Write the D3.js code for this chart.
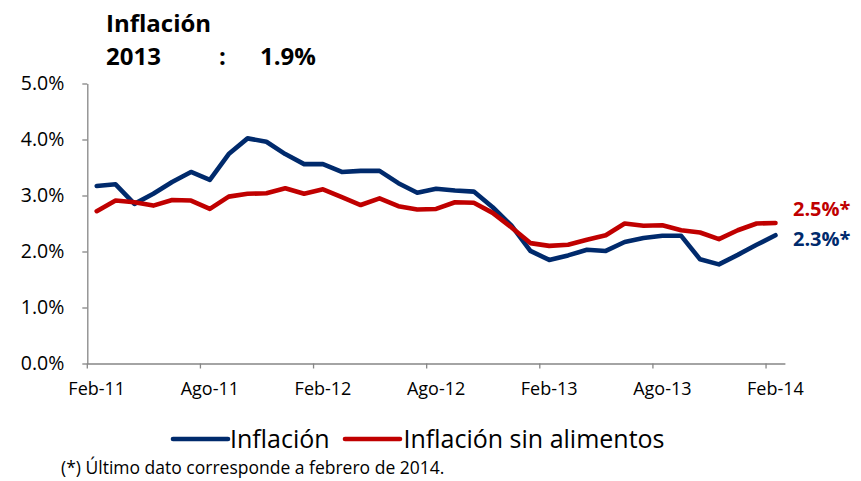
<!DOCTYPE html>
<html><head><meta charset="utf-8">
<script src="https://cdn.jsdelivr.net/npm/d3@7"></script>
<style>
body{margin:0;background:#fff;}
svg text{font-family:"Open Sans","Noto Sans",sans-serif;fill:#000;}
</style></head>
<body><svg id="c" width="861" height="481"></svg>
<script>
const months = ["Feb-11","Mar-11","Abr-11","May-11","Jun-11","Jul-11","Ago-11","Sep-11","Oct-11","Nov-11","Dic-11","Ene-12",
"Feb-12","Mar-12","Abr-12","May-12","Jun-12","Jul-12","Ago-12","Sep-12","Oct-12","Nov-12","Dic-12","Ene-13",
"Feb-13","Mar-13","Abr-13","May-13","Jun-13","Jul-13","Ago-13","Sep-13","Oct-13","Nov-13","Dic-13","Ene-14","Feb-14"];
const inflacion = [3.17,3.20,2.85,3.03,3.24,3.42,3.28,3.74,4.02,3.96,3.74,3.56,3.56,3.42,3.44,3.44,3.22,3.05,3.12,3.09,3.07,2.79,2.46,2.01,1.85,1.93,2.03,2.01,2.17,2.24,2.28,2.28,1.86,1.77,1.94,2.12,2.29];
const sinAlimentos = [2.72,2.91,2.88,2.82,2.92,2.91,2.76,2.98,3.03,3.04,3.13,3.03,3.11,2.97,2.83,2.95,2.81,2.75,2.76,2.88,2.87,2.69,2.43,2.15,2.10,2.12,2.21,2.29,2.50,2.46,2.47,2.38,2.34,2.22,2.38,2.50,2.51];
const xLabels = ["Feb-11","Ago-11","Feb-12","Ago-12","Feb-13","Ago-13","Feb-14"];
const yTicks = [0,1,2,3,4,5];
const seriesNames = ["Inflación","Inflación sin alimentos"];
const endLabels = ["2.3%*","2.5%*"];
const titleLine1 = "Inflación";
const titleYear = "2013", titleSep = ":", titleValue = "1.9%";
const footnote = "(*) Último dato corresponde a febrero de 2014.";

const colors = ["#002A6C","#C00000"];
const axisColor = "#868686";
const svg = d3.select("#c");

const x = d3.scaleBand().domain(months).range([87.3, 784.9]).padding(0);
const y = d3.scaleLinear().domain([0,5]).range([363.5, 83.5]);
const cx = d => x(d) + x.bandwidth()/2;

// Y axis
const gy = svg.append("g").attr("transform","translate(87.3,0)")
  .call(d3.axisLeft(y).tickValues(yTicks).tickFormat(d=>d.toFixed(1)+"%").tickSize(5).tickSizeOuter(0).tickPadding(18));
gy.selectAll("path,line").attr("stroke",axisColor).attr("stroke-width",1.3);
gy.selectAll("text").style("font-size","19.5px").attr("fill","#000");

// X axis: baseline + labels at category centers
const gx = svg.append("g").attr("transform","translate(0,363.5)")
  .call(d3.axisBottom(x).tickValues(xLabels).tickSize(0).tickSizeOuter(0).tickPadding(19));
gx.select("path").attr("stroke",axisColor).attr("stroke-width",1.3);
gx.selectAll("text").style("font-size","18px").attr("fill","#000");
// tick marks between categories
gx.selectAll("line.tm").data(xLabels).enter().append("line").attr("class","tm")
  .attr("x1",d=>x(d)).attr("x2",d=>x(d)).attr("y1",0).attr("y2",5)
  .attr("stroke",axisColor).attr("stroke-width",1.3);

// lines
const data = [inflacion, sinAlimentos];
const line = d3.line().x((d,i)=>cx(months[i])).y(d=>y(d));
data.forEach((s,k)=>{
  svg.append("path").datum(s).attr("d",line).attr("fill","none")
    .attr("stroke",colors[k]).attr("stroke-width",4.6)
    .attr("stroke-linejoin","round").attr("stroke-linecap","round");
});

// end labels
const lastM = months[months.length-1];
const lblOff = [11, -6.5];
data.forEach((s,k)=>{
  svg.append("text").attr("x", cx(lastM)+17.5).attr("y", y(s[s.length-1])+lblOff[k])
    .text(endLabels[k]).style("font-size","20px").style("font-weight","bold").style("fill",colors[k]);
});

// title
svg.append("text").attr("x",106).attr("y",31.5).text(titleLine1).style("font-size","24px").style("font-weight","bold");
const t2 = svg.append("text").attr("y",65).style("font-size","24px").style("font-weight","bold");
t2.append("tspan").attr("x",106).text(titleYear);
t2.append("tspan").attr("x",219).text(titleSep);
t2.append("tspan").attr("x",260).text(titleValue);

// legend
const legX = [173, 345];
const legTextX = [230, 403.5];
seriesNames.forEach((n,k)=>{
  svg.append("line").attr("x1",legX[k]).attr("x2",legX[k]+55).attr("y1",439).attr("y2",439)
    .attr("stroke",colors[k]).attr("stroke-width",4.6).attr("stroke-linecap","round");
  svg.append("text").attr("x",legTextX[k]).attr("y",447.5).text(n).style("font-size","25px");
});

// footnote
svg.append("text").attr("x",61).attr("y",474).text(footnote).style("font-size","17.5px");
</script></body></html>
